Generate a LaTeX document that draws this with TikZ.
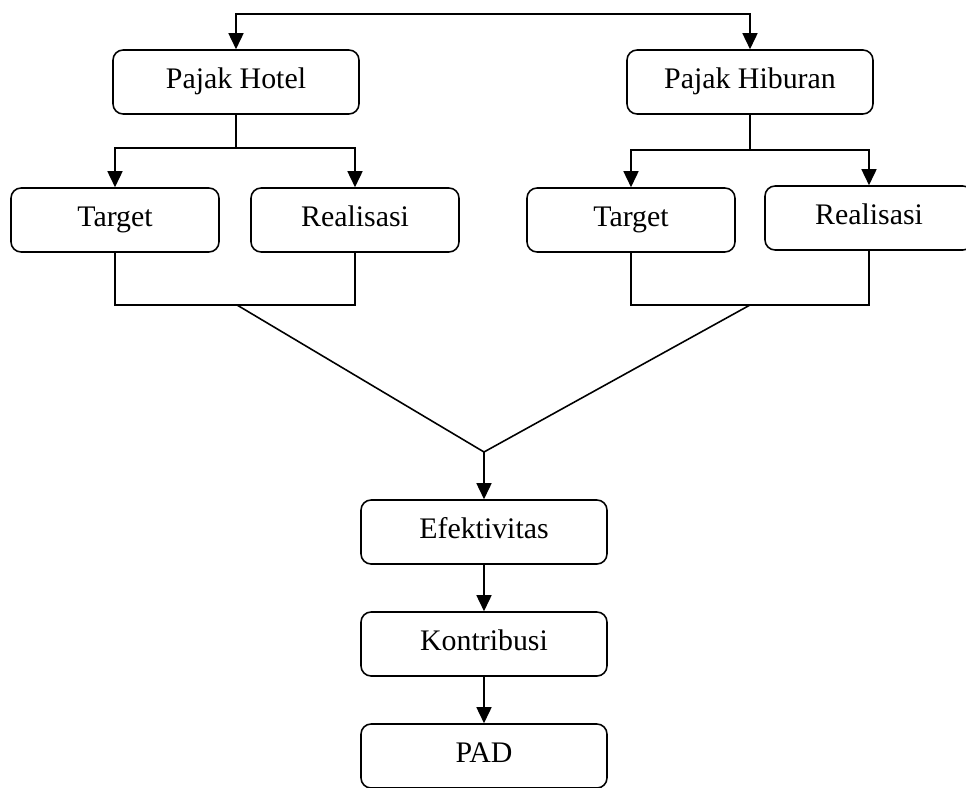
\documentclass[tikz,border=0pt]{standalone}
\usepackage{fontspec}
\setmainfont{Liberation Serif}
\usetikzlibrary{arrows.meta,positioning}

\tikzset{
  box/.style={draw, line width=0.9pt, rounded corners=0.2cm,
    minimum width=4.92cm, minimum height=1.28cm,
    text height=2.2ex, text depth=0.6ex,
    font=\fontsize{17}{20}\selectfont},
  smallbox/.style={box, minimum width=4.16cm},
  link/.style={line width=0.9pt},
  arr/.style={link, -{Triangle[length=0.32cm,width=0.3cm]}},
  arrs/.style={link, {Triangle[length=0.32cm,width=0.3cm]}-{Triangle[length=0.32cm,width=0.3cm]}},
}

\begin{document}
\begin{tikzpicture}[x=0.02cm,y=-0.02cm]
  \useasboundingbox (0,0) rectangle (966,787);

  % pajak
  \node[box] (hotel) at (236,82) {Pajak Hotel};
  \node[box] (hiburan) at (750,82) {Pajak Hiburan};

  % target dan realisasi
  \node[smallbox] (t1) at (115,220) {Target};
  \node[smallbox] (r1) at (355,220) {Realisasi};
  \node[smallbox] (t2) at (631,220) {Target};
  \node[smallbox] (r2) at (869,218) {Realisasi};

  % alur bawah
  \node[box] (efek) at (484,532) {Efektivitas};
  \node[box] (kontri) at (484,644) {Kontribusi};
  \node[box] (pad) at (484,756) {PAD};

  \coordinate (top) at (490,14);
  \coordinate (h1) at (236,148);
  \coordinate (h2) at (750,150);
  \coordinate (b1) at (237,305);
  \coordinate (b2) at (750,305);
  \coordinate (join) at (484,452);

  \draw[arrs] (hotel.north) -- (hotel.north |- top) -- (hiburan.north |- top) -- (hiburan.north);

  \draw[link] (hotel.south) -- (h1);
  \draw[arr] (h1) -| (t1.north);
  \draw[arr] (h1) -| (r1.north);
  \draw[link] (hiburan.south) -- (h2);
  \draw[arr] (h2) -| (t2.north);
  \draw[arr] (h2) -| (r2.north);

  \draw[link] (t1.south) |- (b1) -| (r1.south);
  \draw[link] (t2.south) |- (b2) -| (r2.south);

  \draw[link] (b1) -- (join) -- (b2);
  \draw[arr] (join) -- (efek.north);
  \draw[arr] (efek) -- (kontri);
  \draw[arr] (kontri) -- (pad);
\end{tikzpicture}
\end{document}
